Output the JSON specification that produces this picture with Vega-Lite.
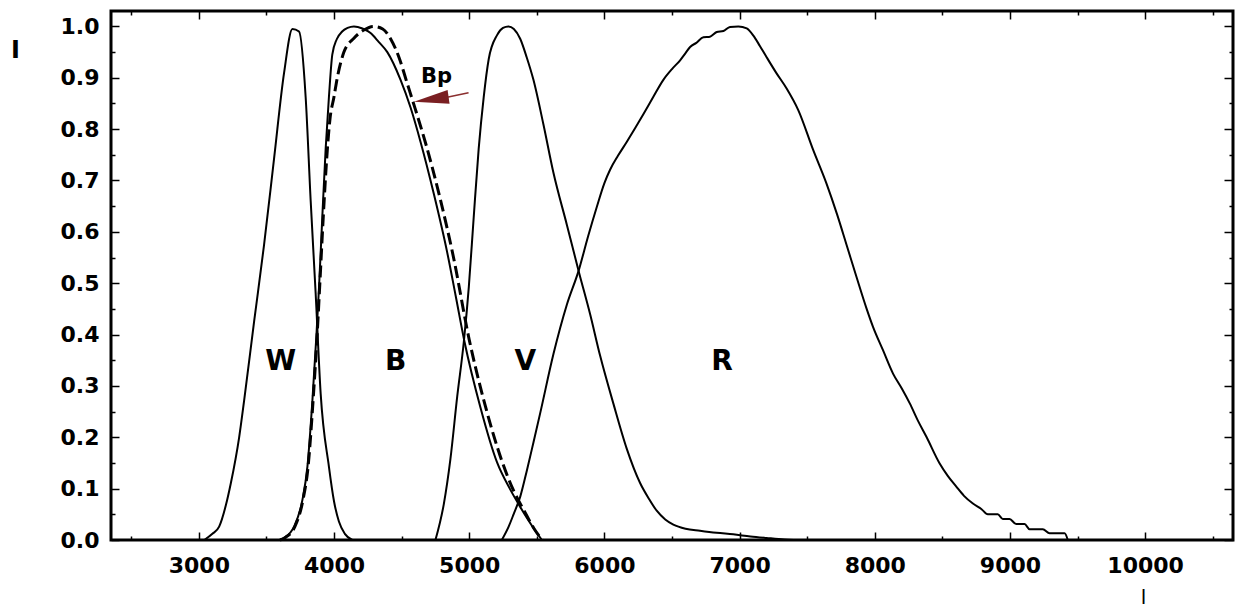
{
  "$schema": "https://vega.github.io/schema/vega-lite/v6.json",
  "width": 1122,
  "height": 529,
  "autosize": "none",
  "padding": {"left": 111, "top": 11, "right": 5, "bottom": 70},
  "background": "white",
  "config": {
    "view": {"stroke": "black", "strokeWidth": 3},
    "axis": {"grid": false, "domain": false, "tickColor": "black", "tickWidth": 1.5, "labelColor": "black", "labelFont": "DejaVu Sans", "labelFontWeight": "bold", "labelFontSize": 22}
  },
  "datasets": {
    "curves": [
      {"band": "W", "wl": 3040, "val": 0}, {"band": "W", "wl": 3100, "val": 0.012}, {"band": "W", "wl": 3150, "val": 0.026}, {"band": "W", "wl": 3200, "val": 0.068}, {"band": "W", "wl": 3236, "val": 0.11}, {"band": "W", "wl": 3298, "val": 0.2}, {"band": "W", "wl": 3335, "val": 0.272}, {"band": "W", "wl": 3409, "val": 0.426}, {"band": "W", "wl": 3482, "val": 0.574}, {"band": "W", "wl": 3556, "val": 0.742}, {"band": "W", "wl": 3630, "val": 0.909}, {"band": "W", "wl": 3692, "val": 0.995}, {"band": "W", "wl": 3741, "val": 0.99}, {"band": "W", "wl": 3790, "val": 0.862}, {"band": "W", "wl": 3827, "val": 0.661}, {"band": "W", "wl": 3864, "val": 0.48}, {"band": "W", "wl": 3901, "val": 0.285}, {"band": "W", "wl": 3962, "val": 0.143}, {"band": "W", "wl": 4000, "val": 0.075}, {"band": "W", "wl": 4036, "val": 0.036}, {"band": "W", "wl": 4080, "val": 0.012}, {"band": "W", "wl": 4135, "val": 0},
      {"band": "B", "wl": 3600, "val": 0}, {"band": "B", "wl": 3630, "val": 0.004}, {"band": "B", "wl": 3704, "val": 0.026}, {"band": "B", "wl": 3766, "val": 0.078}, {"band": "B", "wl": 3803, "val": 0.143}, {"band": "B", "wl": 3840, "val": 0.272}, {"band": "B", "wl": 3870, "val": 0.4}, {"band": "B", "wl": 3889, "val": 0.493}, {"band": "B", "wl": 3913, "val": 0.628}, {"band": "B", "wl": 3938, "val": 0.762}, {"band": "B", "wl": 3962, "val": 0.862}, {"band": "B", "wl": 3987, "val": 0.945}, {"band": "B", "wl": 4020, "val": 0.975}, {"band": "B", "wl": 4060, "val": 0.99}, {"band": "B", "wl": 4100, "val": 0.997}, {"band": "B", "wl": 4147, "val": 1.0}, {"band": "B", "wl": 4210, "val": 0.996}, {"band": "B", "wl": 4270, "val": 0.987}, {"band": "B", "wl": 4330, "val": 0.97}, {"band": "B", "wl": 4394, "val": 0.95}, {"band": "B", "wl": 4492, "val": 0.896}, {"band": "B", "wl": 4566, "val": 0.842}, {"band": "B", "wl": 4640, "val": 0.775}, {"band": "B", "wl": 4738, "val": 0.674}, {"band": "B", "wl": 4837, "val": 0.56}, {"band": "B", "wl": 4900, "val": 0.475}, {"band": "B", "wl": 4965, "val": 0.386}, {"band": "B", "wl": 5083, "val": 0.258}, {"band": "B", "wl": 5206, "val": 0.151}, {"band": "B", "wl": 5300, "val": 0.1}, {"band": "B", "wl": 5378, "val": 0.064}, {"band": "B", "wl": 5476, "val": 0.023}, {"band": "B", "wl": 5538, "val": 0},
      {"band": "Bp", "wl": 3600, "val": 0}, {"band": "Bp", "wl": 3640, "val": 0.005}, {"band": "Bp", "wl": 3710, "val": 0.026}, {"band": "Bp", "wl": 3770, "val": 0.078}, {"band": "Bp", "wl": 3808, "val": 0.143}, {"band": "Bp", "wl": 3845, "val": 0.272}, {"band": "Bp", "wl": 3875, "val": 0.4}, {"band": "Bp", "wl": 3895, "val": 0.5}, {"band": "Bp", "wl": 3920, "val": 0.628}, {"band": "Bp", "wl": 3945, "val": 0.74}, {"band": "Bp", "wl": 3970, "val": 0.82}, {"band": "Bp", "wl": 3999, "val": 0.862}, {"band": "Bp", "wl": 4024, "val": 0.9}, {"band": "Bp", "wl": 4073, "val": 0.95}, {"band": "Bp", "wl": 4147, "val": 0.977}, {"band": "Bp", "wl": 4221, "val": 0.993}, {"band": "Bp", "wl": 4290, "val": 1.0}, {"band": "Bp", "wl": 4360, "val": 0.995}, {"band": "Bp", "wl": 4420, "val": 0.975}, {"band": "Bp", "wl": 4480, "val": 0.94}, {"band": "Bp", "wl": 4540, "val": 0.89}, {"band": "Bp", "wl": 4600, "val": 0.84}, {"band": "Bp", "wl": 4680, "val": 0.77}, {"band": "Bp", "wl": 4780, "val": 0.67}, {"band": "Bp", "wl": 4880, "val": 0.555}, {"band": "Bp", "wl": 5000, "val": 0.39}, {"band": "Bp", "wl": 5120, "val": 0.26}, {"band": "Bp", "wl": 5240, "val": 0.155}, {"band": "Bp", "wl": 5330, "val": 0.095}, {"band": "Bp", "wl": 5410, "val": 0.055}, {"band": "Bp", "wl": 5480, "val": 0.022}, {"band": "Bp", "wl": 5540, "val": 0},
      {"band": "V", "wl": 4750, "val": 0}, {"band": "V", "wl": 4812, "val": 0.07}, {"band": "V", "wl": 4861, "val": 0.158}, {"band": "V", "wl": 4911, "val": 0.279}, {"band": "V", "wl": 4960, "val": 0.386}, {"band": "V", "wl": 4997, "val": 0.493}, {"band": "V", "wl": 5033, "val": 0.628}, {"band": "V", "wl": 5070, "val": 0.762}, {"band": "V", "wl": 5107, "val": 0.862}, {"band": "V", "wl": 5144, "val": 0.936}, {"band": "V", "wl": 5206, "val": 0.983}, {"band": "V", "wl": 5250, "val": 0.997}, {"band": "V", "wl": 5290, "val": 1.0}, {"band": "V", "wl": 5330, "val": 0.995}, {"band": "V", "wl": 5377, "val": 0.976}, {"band": "V", "wl": 5425, "val": 0.94}, {"band": "V", "wl": 5475, "val": 0.896}, {"band": "V", "wl": 5549, "val": 0.809}, {"band": "V", "wl": 5623, "val": 0.715}, {"band": "V", "wl": 5722, "val": 0.614}, {"band": "V", "wl": 5813, "val": 0.52}, {"band": "V", "wl": 5894, "val": 0.44}, {"band": "V", "wl": 5968, "val": 0.359}, {"band": "V", "wl": 6067, "val": 0.265}, {"band": "V", "wl": 6165, "val": 0.178}, {"band": "V", "wl": 6264, "val": 0.111}, {"band": "V", "wl": 6330, "val": 0.08}, {"band": "V", "wl": 6387, "val": 0.057}, {"band": "V", "wl": 6450, "val": 0.04}, {"band": "V", "wl": 6510, "val": 0.03}, {"band": "V", "wl": 6600, "val": 0.022}, {"band": "V", "wl": 6707, "val": 0.018}, {"band": "V", "wl": 6830, "val": 0.014}, {"band": "V", "wl": 6953, "val": 0.011}, {"band": "V", "wl": 7080, "val": 0.007}, {"band": "V", "wl": 7199, "val": 0.004}, {"band": "V", "wl": 7330, "val": 0.001}, {"band": "V", "wl": 7400, "val": 0},
      {"band": "R", "wl": 5241, "val": 0}, {"band": "R", "wl": 5290, "val": 0.025}, {"band": "R", "wl": 5328, "val": 0.05}, {"band": "R", "wl": 5378, "val": 0.085}, {"band": "R", "wl": 5426, "val": 0.135}, {"band": "R", "wl": 5475, "val": 0.19}, {"band": "R", "wl": 5525, "val": 0.247}, {"band": "R", "wl": 5623, "val": 0.362}, {"band": "R", "wl": 5722, "val": 0.458}, {"band": "R", "wl": 5810, "val": 0.525}, {"band": "R", "wl": 5880, "val": 0.592}, {"band": "R", "wl": 5943, "val": 0.648}, {"band": "R", "wl": 6000, "val": 0.695}, {"band": "R", "wl": 6042, "val": 0.721}, {"band": "R", "wl": 6100, "val": 0.748}, {"band": "R", "wl": 6165, "val": 0.775}, {"band": "R", "wl": 6230, "val": 0.803}, {"band": "R", "wl": 6288, "val": 0.829}, {"band": "R", "wl": 6360, "val": 0.862}, {"band": "R", "wl": 6436, "val": 0.896}, {"band": "R", "wl": 6500, "val": 0.917}, {"band": "R", "wl": 6560, "val": 0.934}, {"band": "R", "wl": 6600, "val": 0.948}, {"band": "R", "wl": 6634, "val": 0.96}, {"band": "R", "wl": 6680, "val": 0.968}, {"band": "R", "wl": 6732, "val": 0.979}, {"band": "R", "wl": 6781, "val": 0.98}, {"band": "R", "wl": 6831, "val": 0.989}, {"band": "R", "wl": 6880, "val": 0.991}, {"band": "R", "wl": 6929, "val": 0.999}, {"band": "R", "wl": 6991, "val": 1.0}, {"band": "R", "wl": 7053, "val": 0.996}, {"band": "R", "wl": 7102, "val": 0.982}, {"band": "R", "wl": 7150, "val": 0.962}, {"band": "R", "wl": 7200, "val": 0.94}, {"band": "R", "wl": 7270, "val": 0.91}, {"band": "R", "wl": 7348, "val": 0.879}, {"band": "R", "wl": 7434, "val": 0.837}, {"band": "R", "wl": 7545, "val": 0.759}, {"band": "R", "wl": 7643, "val": 0.694}, {"band": "R", "wl": 7720, "val": 0.635}, {"band": "R", "wl": 7791, "val": 0.575}, {"band": "R", "wl": 7865, "val": 0.512}, {"band": "R", "wl": 7940, "val": 0.45}, {"band": "R", "wl": 7987, "val": 0.415}, {"band": "R", "wl": 8060, "val": 0.37}, {"band": "R", "wl": 8135, "val": 0.324}, {"band": "R", "wl": 8200, "val": 0.295}, {"band": "R", "wl": 8259, "val": 0.266}, {"band": "R", "wl": 8320, "val": 0.232}, {"band": "R", "wl": 8382, "val": 0.201}, {"band": "R", "wl": 8480, "val": 0.149}, {"band": "R", "wl": 8540, "val": 0.125}, {"band": "R", "wl": 8603, "val": 0.104}, {"band": "R", "wl": 8660, "val": 0.086}, {"band": "R", "wl": 8726, "val": 0.071}, {"band": "R", "wl": 8790, "val": 0.06}, {"band": "R", "wl": 8836, "val": 0.05}, {"band": "R", "wl": 8910, "val": 0.05}, {"band": "R", "wl": 8947, "val": 0.041}, {"band": "R", "wl": 8997, "val": 0.041}, {"band": "R", "wl": 9046, "val": 0.031}, {"band": "R", "wl": 9108, "val": 0.031}, {"band": "R", "wl": 9145, "val": 0.021}, {"band": "R", "wl": 9243, "val": 0.021}, {"band": "R", "wl": 9293, "val": 0.013}, {"band": "R", "wl": 9404, "val": 0.013}, {"band": "R", "wl": 9428, "val": 0}
    ],
    "letters": [
      {"t": "W", "wl": 3606, "val": 0.346},
      {"t": "B", "wl": 4455, "val": 0.346},
      {"t": "V", "wl": 5415, "val": 0.346},
      {"t": "R", "wl": 6870, "val": 0.346}
    ],
    "bp": [{"t": "Bp", "wl": 4758, "val": 0.901}],
    "arrowLine": [{"wl": 4836, "val": 0.862}, {"wl": 4995, "val": 0.871}],
    "arrowHead": [{"wl": 4719, "val": 0.858}]
  },
  "layer": [
    {
      "data": {"name": "curves"},
      "transform": [{"filter": "datum.band !== 'Bp'"}],
      "mark": {"type": "line", "color": "black", "strokeWidth": 2, "interpolate": "monotone"},
      "encoding": {
        "x": {
          "field": "wl", "type": "quantitative",
          "scale": {"domain": [2350, 10650], "nice": false, "zero": false},
          "axis": {
            "orient": "bottom", "title": "l", "titleFont": "DejaVu Sans", "titleFontWeight": "normal", "titleFontSize": 20,
            "titleX": 1032, "titleY": 63, "titleAlign": "center", "titleBaseline": "alphabetic",
            "values": [2500, 3000, 3500, 4000, 4500, 5000, 5500, 6000, 6500, 7000, 7500, 8000, 8500, 9000, 9500, 10000, 10500],
            "format": "d",
            "labelExpr": "datum.value % 1000 === 0 ? datum.label : ''",
            "tickSize": {"condition": {"test": "datum.value % 1000 === 0", "value": -8}, "value": -4},
            "labelPadding": 23,
            "labelFlush": false,
            "labelOverlap": false
          }
        },
        "y": {
          "field": "val", "type": "quantitative",
          "scale": {"domain": [0, 1.03], "nice": false},
          "axis": {
            "orient": "left", "title": "I", "titleFont": "DejaVu Sans", "titleFontWeight": "bold", "titleFontSize": 24,
            "titleAngle": 0, "titleX": -96, "titleY": 39, "titleAlign": "center", "titleBaseline": "middle",
            "values": [0, 0.05, 0.1, 0.15, 0.2, 0.25, 0.3, 0.35, 0.4, 0.45, 0.5, 0.55, 0.6, 0.65, 0.7, 0.75, 0.8, 0.85, 0.9, 0.95, 1.0],
            "labelExpr": "abs(datum.value * 10 - round(datum.value * 10)) < 0.001 ? format(datum.value, '.1f') : ''",
            "tickSize": {"condition": {"test": "abs(datum.value * 10 - round(datum.value * 10)) < 0.001", "value": -8}, "value": -4},
            "labelPadding": 20,
            "labelFlush": false,
            "labelOverlap": false
          }
        },
        "detail": {"field": "band"}
      }
    },
    {
      "data": {"name": "curves"},
      "transform": [{"filter": "datum.band === 'Bp'"}],
      "mark": {"type": "line", "color": "black", "strokeWidth": 3, "strokeDash": [12, 5], "interpolate": "monotone"},
      "encoding": {
        "x": {
          "field": "wl", "type": "quantitative",
          "axis": {
            "orient": "top", "title": null, "labels": false,
            "values": [2500, 3000, 3500, 4000, 4500, 5000, 5500, 6000, 6500, 7000, 7500, 8000, 8500, 9000, 9500, 10000, 10500],
            "tickSize": {"condition": {"test": "datum.value % 1000 === 0", "value": -8}, "value": -4}
          }
        },
        "y": {
          "field": "val", "type": "quantitative",
          "axis": {
            "orient": "right", "title": null, "labels": false,
            "values": [0, 0.05, 0.1, 0.15, 0.2, 0.25, 0.3, 0.35, 0.4, 0.45, 0.5, 0.55, 0.6, 0.65, 0.7, 0.75, 0.8, 0.85, 0.9, 0.95, 1.0],
            "tickSize": {"condition": {"test": "abs(datum.value * 10 - round(datum.value * 10)) < 0.001", "value": -9}, "value": -4}
          }
        }
      }
    },
    {
      "data": {"name": "letters"},
      "mark": {"type": "text", "font": "DejaVu Sans", "fontWeight": "bold", "fontSize": 28, "color": "black", "align": "center", "baseline": "middle"},
      "encoding": {
        "x": {"field": "wl", "type": "quantitative", "axis": null},
        "y": {"field": "val", "type": "quantitative", "axis": null},
        "text": {"field": "t"}
      }
    },
    {
      "data": {"name": "bp"},
      "mark": {"type": "text", "font": "DejaVu Sans", "fontWeight": "bold", "fontSize": 21, "color": "black", "align": "center", "baseline": "middle"},
      "encoding": {
        "x": {"field": "wl", "type": "quantitative", "axis": null},
        "y": {"field": "val", "type": "quantitative", "axis": null},
        "text": {"field": "t"}
      }
    },
    {
      "data": {"name": "arrowLine"},
      "mark": {"type": "line", "color": "#8b2f2f", "strokeWidth": 1.5},
      "encoding": {
        "x": {"field": "wl", "type": "quantitative", "axis": null},
        "y": {"field": "val", "type": "quantitative", "axis": null}
      }
    },
    {
      "data": {"name": "arrowHead"},
      "mark": {"type": "point", "shape": "M-1,0L1,-0.4L1,0.4Z", "size": 1225, "angle": -8, "filled": true, "color": "#7a1f22", "opacity": 1, "strokeWidth": 0},
      "encoding": {
        "x": {"field": "wl", "type": "quantitative", "axis": null},
        "y": {"field": "val", "type": "quantitative", "axis": null}
      }
    }
  ],
  "resolve": {"axis": {"x": "independent", "y": "independent"}}
}
